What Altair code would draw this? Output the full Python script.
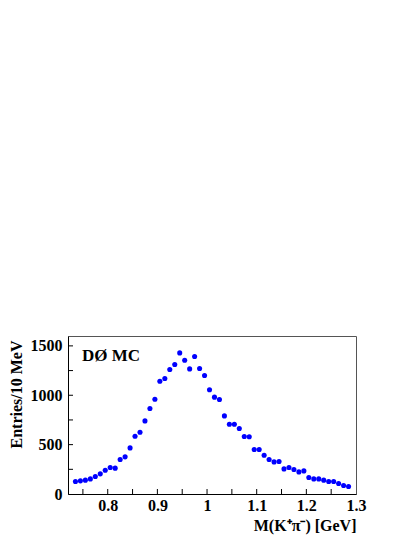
import altair as alt
import pandas as pd

# bin centres (GeV) and entries per 10 MeV
mass = [0.735 + 0.01 * i for i in range(56)]
entries = [127, 133, 140, 153, 177, 204, 241, 268, 262, 349,
           376, 467, 585, 626, 740, 866, 960, 1142, 1170, 1261,
           1312, 1429, 1355, 1267, 1392, 1271, 1200, 1055, 981, 957,
           791, 707, 707, 663, 582, 579, 451, 451, 393, 349,
           325, 329, 254, 268, 248, 224, 234, 167, 153, 153,
           140, 127, 127, 106, 86, 76]

x_major = [0.8, 0.9, 1.0, 1.1, 1.2, 1.3]
x_minor = [0.75, 0.8, 0.85, 0.9, 0.95, 1.0, 1.05, 1.1, 1.15, 1.2, 1.25]
y_major = [0, 500, 1000, 1500]
y_minor = [250, 500, 750, 1000, 1250, 1500]

W, H = 288, 158
FONT = "Liberation Serif"

df = pd.DataFrame({"mass": mass, "entries": entries})
xs = alt.Scale(domain=[0.72, 1.3], nice=False, zero=False)
ys = alt.Scale(domain=[0, 1600], nice=False)

x_axis = alt.Axis(values=x_major, format=".2~f", title="M(K⁺π⁻) [GeV]",
                  titleAnchor="end", titleBaseline="alphabetic", titleY=36,
                  grid=False, ticks=False, labelPadding=3,
                  domainColor="black", labelFlush=False)
y_axis = alt.Axis(values=y_major, format="d", title="Entries/10 MeV",
                  titleAnchor="end", titleAlign="right", titleAngle=-90,
                  titleBaseline="bottom", titleX=-44, titleY=4,
                  grid=False, ticks=False, labelPadding=6,
                  domainColor="black")

points = alt.Chart(df).mark_circle(size=26, color="#0000ff", opacity=1).encode(
    x=alt.X("mass:Q", scale=xs, axis=x_axis),
    y=alt.Y("entries:Q", scale=ys, axis=y_axis),
)

xt = alt.Chart(pd.DataFrame({"t": x_minor})).mark_rule(color="black", strokeWidth=1).encode(
    x=alt.X("t:Q", scale=xs, axis=x_axis), y=alt.value(H), y2=alt.value(H - 5))
yt = alt.Chart(pd.DataFrame({"t": y_minor})).mark_rule(color="black", strokeWidth=1).encode(
    y=alt.Y("t:Q", scale=ys, axis=y_axis), x=alt.value(0), x2=alt.value(5))

label = alt.Chart(pd.DataFrame({"t": ["DØ MC"]})).mark_text(
    font=FONT, fontWeight="bold", fontSize=17, align="left", baseline="alphabetic",
    color="black").encode(text="t:N", x=alt.value(14), y=alt.value(25))

chart = alt.layer(points, xt, yt, label).properties(
    width=W, height=H,
    autosize=alt.AutoSizeParams(type="none"),
    padding={"left": 60, "top": 328, "right": 30, "bottom": 42},
    background="white",
).configure_view(stroke="#555555", strokeWidth=1).configure_axis(
    labelFont=FONT, labelFontWeight="bold", labelFontSize=16, labelColor="black",
    titleFont=FONT, titleFontWeight="bold", titleFontSize=16, titleColor="black",
)

chart.save("out.html", embed_options={"renderer": "svg", "actions": False})
